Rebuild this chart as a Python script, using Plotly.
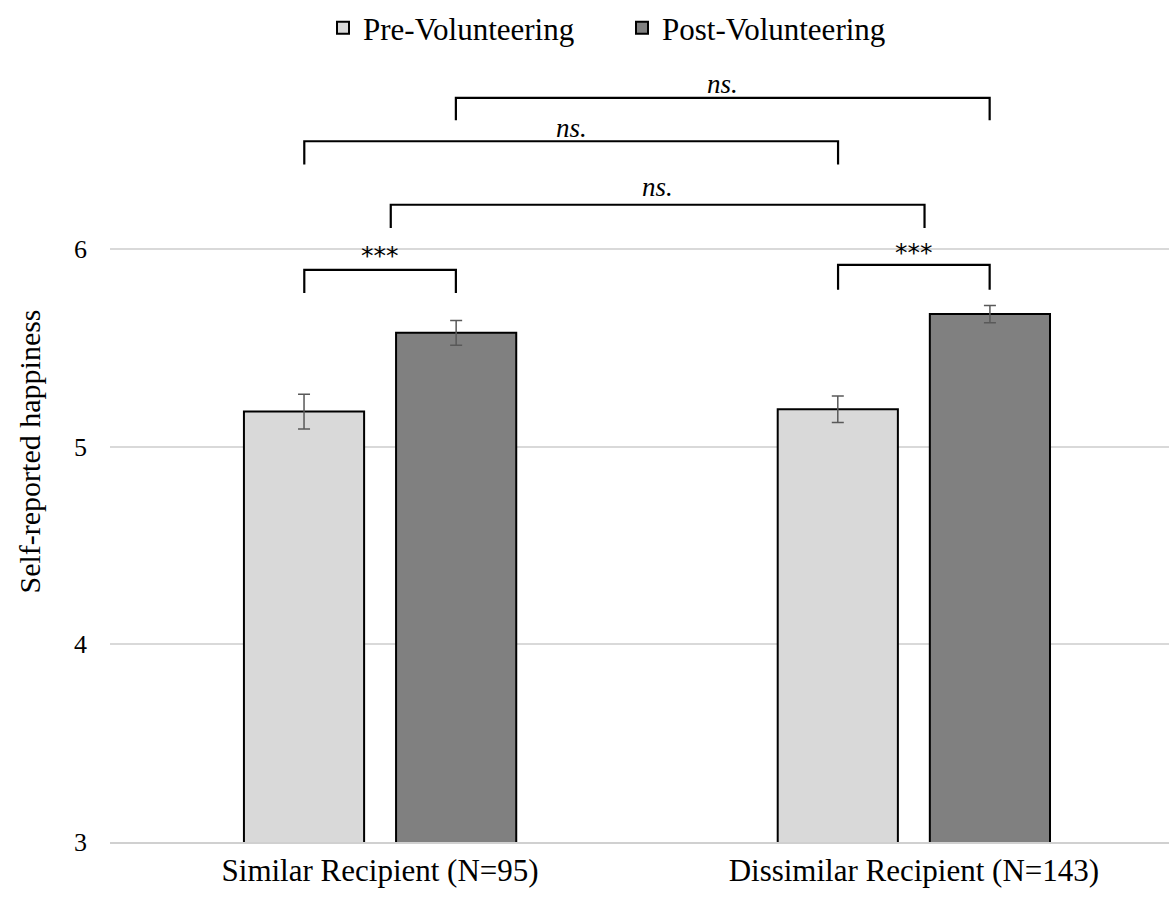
import plotly.graph_objects as go

categories = ["Similar Recipient (N=95)", "Dissimilar Recipient (N=143)"]
pre_values = [5.177, 5.189]
post_values = [5.575, 5.670]
pre_err = [0.088, 0.067]
post_err = [0.062, 0.044]
series_names = ["Pre-Volunteering", "Post-Volunteering"]
y_ticks = [3, 4, 5, 6]

FONT = "Liberation Serif, Times New Roman, serif"
BAR_OFF = 0.142  # half spacing between grouped bars, in category units

fig = go.Figure()
fig.add_trace(go.Bar(
    x=categories, y=pre_values, name=series_names[0],
    marker=dict(color="#d9d9d9", line=dict(color="#000000", width=2)),
    error_y=dict(type="data", array=pre_err, color="#595959", thickness=1.5, width=6),
))
fig.add_trace(go.Bar(
    x=categories, y=post_values, name=series_names[1],
    marker=dict(color="#808080", line=dict(color="#000000", width=2)),
    error_y=dict(type="data", array=post_err, color="#595959", thickness=1.5, width=6),
))

# significance brackets: (x_left, x_right, y_line, y_tick_bottom, y_text, label, italic)
brackets = [
    (0 - BAR_OFF, 0 + BAR_OFF, 5.894, 5.777, 5.965, "***", False),
    (1 - BAR_OFF, 1 + BAR_OFF, 5.919, 5.793, 5.983, "***", False),
    (0 + 0.02, 1 + 0.02, 6.223, 6.106, 6.314, "ns.", True),
    (0 - BAR_OFF, 1 - BAR_OFF, 6.544, 6.427, 6.612, "ns.", True),
    (0 + BAR_OFF, 1 + BAR_OFF, 6.764, 6.650, 6.832, "ns.", True),
]
for xl, xr, yl, yb, yt, lab, ital in brackets:
    fig.add_shape(type="path",
                  path=f"M {xl},{yb} L {xl},{yl} L {xr},{yl} L {xr},{yb}",
                  xref="x", yref="y", line=dict(color="#000000", width=2.2))
    txt = f"<i>{lab}</i>" if ital else lab
    fig.add_annotation(x=(xl + xr) / 2, y=yt, text=txt, showarrow=False,
                       xref="x", yref="y",
                       font=dict(family=FONT if ital else "DejaVu Sans, sans-serif",
                                 size=27 if ital else 25, color="#000000"))

fig.update_layout(
    width=1169, height=898,
    paper_bgcolor="#ffffff", plot_bgcolor="#ffffff",
    margin=dict(l=110, r=0, t=61, b=56, autoexpand=False),
    barmode="group", bargap=0.43, bargroupgap=0.21,
    font=dict(family=FONT, size=24, color="#000000"),
    showlegend=True,
    legend=dict(orientation="h", x=(323 - 110) / 1059, xanchor="left",
                y=1.042, yanchor="middle",
                font=dict(family=FONT, size=31, color="#000000"),
                itemwidth=30, entrywidth=254, entrywidthmode="pixels",
                traceorder="normal"),
)
fig.update_xaxes(range=[-0.506, 1.478], showgrid=False, showline=True,
                 linecolor="#d0d0d0", linewidth=1.5, ticks="",
                 tickfont=dict(family=FONT, size=31, color="#000000"))
fig.update_yaxes(range=[3, 6.95], tickvals=y_ticks, showgrid=True,
                 gridcolor="#d9d9d9", gridwidth=1.5, zeroline=False,
                 showline=False, ticks="", ticklabelstandoff=22,
                 tickfont=dict(family=FONT, size=26, color="#000000"),
                 title=dict(text="Self-reported happiness", standoff=24,
                            font=dict(family=FONT, size=30, color="#000000")))

fig.write_html("out.html", config={"displayModeBar": False},
               post_script="document.body.style.margin='0';")
